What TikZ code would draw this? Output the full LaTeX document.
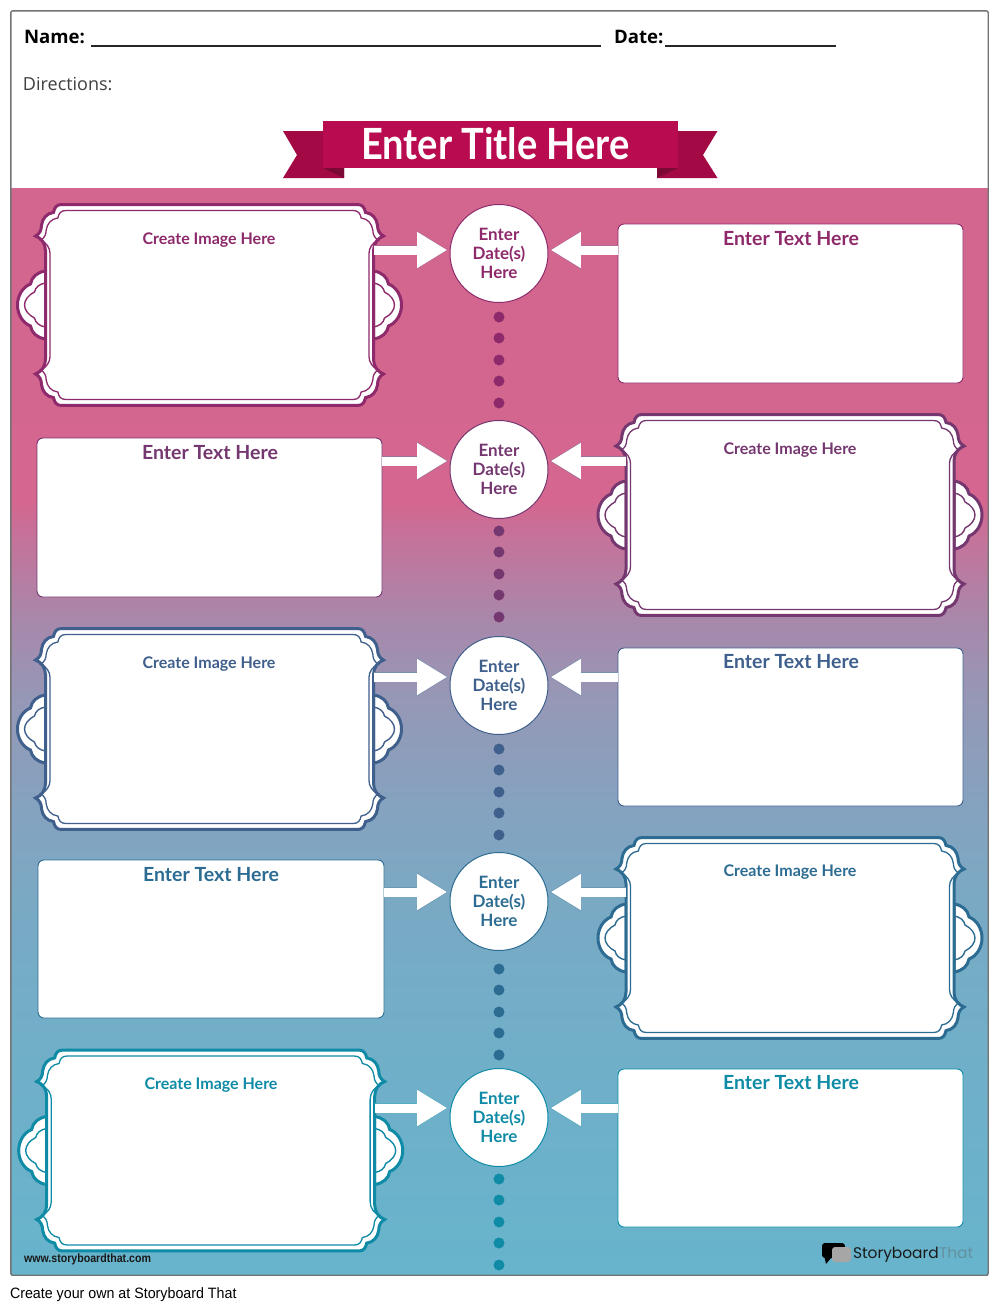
\documentclass[tikz,border=0pt]{standalone}
\usepackage{fontspec}
\usepackage{graphicx}
\setmainfont{Lato}
\newfontfamily\opensans{Open Sans}
\newfontfamily\poppins{Poppins}
\newfontfamily\libsans{Liberation Sans}
\usetikzlibrary{arrows.meta}
\definecolor{bgA}{HTML}{D2668F}
\definecolor{bgB}{HTML}{D4668F}
\definecolor{bgC}{HTML}{C87098}
\definecolor{bgD}{HTML}{A888AB}
\definecolor{bgE}{HTML}{9598B6}
\definecolor{bgF}{HTML}{85A2BF}
\definecolor{bgG}{HTML}{7AA9C4}
\definecolor{bgH}{HTML}{73ADC7}
\definecolor{bgI}{HTML}{67B4CC}
\definecolor{rowA}{HTML}{8E2A6B}
\definecolor{rowB}{HTML}{74376F}
\definecolor{rowC}{HTML}{3F5F8C}
\definecolor{rowD}{HTML}{2D6C92}
\definecolor{rowE}{HTML}{0F8BA6}
\definecolor{bannerA}{HTML}{B90B4F}
\definecolor{bannerB}{HTML}{A30A45}
\definecolor{bannerC}{HTML}{7A0A35}
\pgfdeclareverticalshading{bgshade}{100bp}{color(0bp)=(bgI);color(25bp)=(bgI);color(37.7bp)=(bgH);color(42.2bp)=(bgG);color(46.8bp)=(bgF);color(51.4bp)=(bgE);color(55.1bp)=(bgD);color(59.3bp)=(bgC);color(60.6bp)=(bgB);color(75bp)=(bgA);color(100bp)=(bgA)}
\tikzset{
  x=1pt,y=-1pt,
  frmain/.style={insert path={
    (148,-102) .. controls (153,-102) and (155,-99) .. (156,-94)
    .. controls (163,-93) and (167,-88) .. (168,-81)
    .. controls (168,-76) and (170,-72) .. (174,-70)
    .. controls (168,-68) and (164,-62) .. (164,-55)
    -- (164,55)
    .. controls (164,62) and (168,68) .. (174,70)
    .. controls (170,72) and (168,76) .. (168,81)
    .. controls (167,88) and (163,93) .. (156,94)
    .. controls (155,99) and (153,102) .. (148,102)
    -- (-148,102)
    .. controls (-153,102) and (-155,99) .. (-156,94)
    .. controls (-163,93) and (-167,88) .. (-168,81)
    .. controls (-168,76) and (-170,72) .. (-174,70)
    .. controls (-168,68) and (-164,62) .. (-164,55)
    -- (-164,-55)
    .. controls (-164,-62) and (-168,-68) .. (-174,-70)
    .. controls (-170,-72) and (-168,-76) .. (-168,-81)
    .. controls (-167,-88) and (-163,-93) .. (-156,-94)
    .. controls (-155,-99) and (-153,-102) .. (-148,-102)
    -- cycle}},
  lobeout/.style={insert path={
    (164,-34) .. controls (172,-33) and (178,-28) .. (179,-21)
    .. controls (187,-18) and (192,-9) .. (192,0)
    .. controls (192,9) and (187,18) .. (179,21)
    .. controls (178,28) and (172,33) .. (164,34) -- cycle}},
  lobein/.style={insert path={
    (164,-22) .. controls (170,-21) and (174,-18) .. (175,-13)
    .. controls (181,-10) and (185,-5) .. (185,0)
    .. controls (185,5) and (181,10) .. (175,13)
    .. controls (174,18) and (170,21) .. (164,22)}},
  frameanchor/.style={minimum width=328pt,minimum height=204pt,inner sep=0pt,outer sep=0pt},
  labelimg/.style={font=\bfseries\fontsize{16}{18}\selectfont,inner sep=0pt},
  labeltxt/.style={font=\bfseries\fontsize{19.5}{22}\selectfont,inner sep=0pt},
  datec/.style={circle,fill=white,minimum size=98pt,inner sep=0pt,line width=1pt,draw,
     font=\bfseries\fontsize{17}{19}\selectfont,align=center},
  tbox/.style={rectangle,rounded corners=6pt,fill=white,draw,line width=.9pt,inner sep=0pt,outer sep=0pt},
  dotn/.style={circle,minimum size=11pt,inner sep=0pt},
  conn/.style={line width=9pt,white,-{Triangle[length=30pt,width=34pt]}},
  connedge/.style={line width=9.8pt,-{Triangle[length=31pt,width=36pt]}},
  plain/.style={inner sep=0pt,outer sep=0pt,anchor=base west}
}
% name, cx, cy, colour
\newcommand\imgframe[4]{%
  \node[frameanchor] (#1) at (#2,#3) {};
  \begin{scope}[shift={(#2,#3)}]
    \foreach \sx in {1,-1}{%
      \begin{scope}[xscale=\sx]
        \draw[#4,fill=white,line width=3pt,lobeout];
        \draw[#4,line width=1.4pt,lobein];
      \end{scope}}
    \draw[#4,fill=white,line width=3pt,yscale=.985,frmain];
    \draw[#4,line width=1.3pt,xscale=.972,yscale=.926,frmain];
  \end{scope}}
% start, end point, shorten
\newcommand\blockarrow[3]{%
  \draw[connedge,#3!70!white,shorten >=1.4pt] (#1) -- (#2);
  \draw[conn,shorten >=2.3pt] (#1) -- (#2);}
\newcommand\dotsdown[6]{%
  \foreach \yy [count=\i] in {#2,#3,#4,#5,#6}{\node[dotn,fill=#1] (dot#1\i) at (499,\yy) {};}}
\begin{document}
\begin{tikzpicture}
\useasboundingbox (0,0) rectangle (1000,1310);
\fill[white] (0,0) rectangle (1000,1310);
% page
\node[inner sep=0pt,minimum width=977pt,minimum height=1264pt,rounded corners=2pt,fill=white] (page) at (499.5,643) {};
\shade[shading=bgshade] (11,188) rectangle (988,1275);
\draw[black!55,line width=1.4pt,rounded corners=2pt] (page.north west) rectangle (page.south east);
% header
\node[plain,font=\opensans\bfseries\fontsize{18.6}{22}\selectfont] (name) at (24,43) {Name:};
\node[plain,font=\opensans\bfseries\fontsize{18.6}{22}\selectfont] (date) at (614,43) {Date:};
\coordinate (nameA) at (91,45.5); \coordinate (nameB) at (601,45.5);
\coordinate (dateA) at (665,45.5); \coordinate (dateB) at (836,45.5);
\draw[line width=2pt,black!85] (nameA) -- (nameB);
\draw[line width=2pt,black!85] (dateA) -- (dateB);
\node[plain,font=\opensans\fontsize{18}{22}\selectfont,text=black!75] (dirs) at (23,90) {Directions:};
% banner
\fill[bannerB] (283,131) -- (323,131) -- (344,168) -- (344,178) -- (283,178) -- (297,155) -- cycle;
\fill[bannerB] (717.5,131) -- (678,131) -- (657,168) -- (657,178) -- (717.5,178) -- (703,155) -- cycle;
\fill[bannerC] (323,168) -- (344,168) -- (344,178) -- cycle;
\fill[bannerC] (678,168) -- (657,168) -- (657,178) -- cycle;
\node[fill=bannerA,minimum width=355pt,minimum height=47pt,inner sep=0pt] (banner) at (500.5,144.5) {};
\node[inner sep=0pt,text=white,font=\bfseries\fontsize{43}{46}\selectfont] (title) at (495.5,143.5) {\scalebox{.884}[1]{Enter Title Here}};
% row 1
\imgframe{fa}{209.5}{305}{rowA}
\node[labelimg,text=rowA] (la) at (209,240.5) {Create Image Here};
\node[datec,draw=rowA,text=rowA] (ca) at (499,253.5) {Enter\\Date(s)\\Here};
\node[tbox,draw=rowA,minimum width=345pt,minimum height=159pt] (ba) at (790.5,303.5) {};
\node[labeltxt,text=rowA] (ta) at (791,239) {Enter Text Here};
\coordinate (aa) at (499,250);
\blockarrow{fa.east |- aa}{aa -| ca.west}{rowA}
\blockarrow{ba.west |- aa}{aa -| ca.east}{rowA}
\dotsdown{rowA}{317}{338}{360}{381}{403}
% row 2
\node[tbox,draw=rowB,minimum width=345pt,minimum height=159pt] (bb) at (209.5,517.5) {};
\node[labeltxt,text=rowB] (tb) at (210,453) {Enter Text Here};
\imgframe{fb}{790}{515}{rowB}
\node[labelimg,text=rowB] (lb) at (790,450.5) {Create Image Here};
\node[datec,draw=rowB,text=rowB] (cb) at (499,469.5) {Enter\\Date(s)\\Here};
\coordinate (ab) at (499,461);
\blockarrow{bb.east |- ab}{ab -| cb.west}{rowB}
\blockarrow{fb.west |- ab}{ab -| cb.east}{rowB}
\dotsdown{rowB}{531}{552}{574}{595}{617}
% row 3
\imgframe{fc}{209.5}{729}{rowC}
\node[labelimg,text=rowC] (lc) at (209,664.5) {Create Image Here};
\node[datec,draw=rowC,text=rowC] (cc) at (499,685.5) {Enter\\Date(s)\\Here};
\node[tbox,draw=rowC,minimum width=345pt,minimum height=158pt] (bc) at (790.5,727) {};
\node[labeltxt,text=rowC] (tc) at (791,662) {Enter Text Here};
\coordinate (ac) at (499,677);
\blockarrow{fc.east |- ac}{ac -| cc.west}{rowC}
\blockarrow{bc.west |- ac}{ac -| cc.east}{rowC}
\dotsdown{rowC}{749}{770}{792}{813}{835}
% row 4
\node[tbox,draw=rowD,minimum width=346pt,minimum height=158pt] (bd) at (211,939) {};
\node[labeltxt,text=rowD] (td) at (211,875) {Enter Text Here};
\imgframe{fd}{790}{938}{rowD}
\node[labelimg,text=rowD] (ld) at (790,872.5) {Create Image Here};
\node[datec,draw=rowD,text=rowD] (cd) at (499,901.5) {Enter\\Date(s)\\Here};
\coordinate (ad) at (499,892);
\blockarrow{bd.east |- ad}{ad -| cd.west}{rowD}
\blockarrow{fd.west |- ad}{ad -| cd.east}{rowD}
\dotsdown{rowD}{969}{990}{1012}{1033}{1055}
% row 5
\imgframe{fe}{210.7}{1150.5}{rowE}
\node[labelimg,text=rowE] (le) at (211,1085.5) {Create Image Here};
\node[datec,draw=rowE,text=rowE] (ce) at (499,1117.5) {Enter\\Date(s)\\Here};
\node[tbox,draw=rowE,minimum width=345pt,minimum height=158pt] (be) at (790.5,1148) {};
\node[labeltxt,text=rowE] (te) at (791,1083) {Enter Text Here};
\coordinate (ae) at (499,1108);
\blockarrow{fe.east |- ae}{ae -| ce.west}{rowE}
\blockarrow{be.west |- ae}{ae -| ce.east}{rowE}
\dotsdown{rowE}{1179}{1200}{1222}{1243}{1265}
% footer
\node[plain,font=\libsans\bfseries\fontsize{12}{14}\selectfont,text=black!90] (www) at (24,1262) {\scalebox{.885}[1]{www.storyboardthat.com}};
\node[plain,font=\libsans\fontsize{15}{18}\selectfont,text=black] (own) at (10,1298) {\scalebox{.95}[1]{Create your own at Storyboard That}};
% logo
\fill[black,rounded corners=3pt] (822,1243) rectangle (845,1258);
\fill[black] (824,1255) -- (831,1258) -- (826,1264) -- cycle;
\fill[black!35,rounded corners=3pt] (832,1247) rectangle (851,1262);
\node[plain,font=\poppins\fontsize{15.4}{18}\selectfont,text=black!90] (sb) at (853,1258) {Storyboard};
\node[plain,font=\poppins\fontsize{15.4}{18}\selectfont,text=black!30!bgI!85!white] (that) at (939,1258) {That};
\end{tikzpicture}
\end{document}
